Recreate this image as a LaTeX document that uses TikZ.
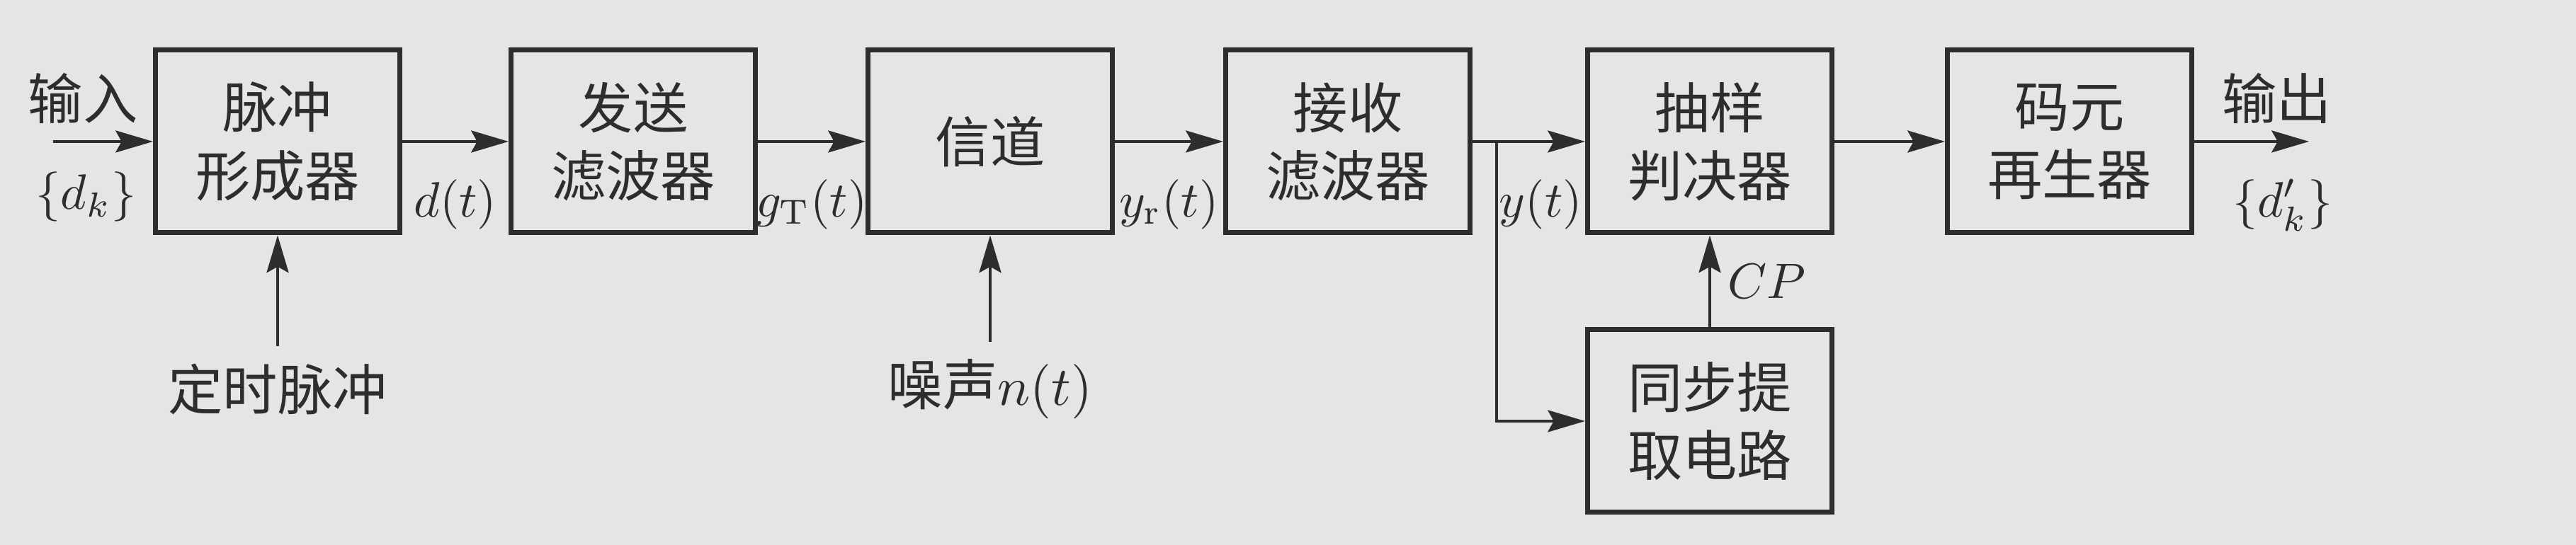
\documentclass[tikz,border=0pt]{standalone}
\usepackage{fontspec}
\newfontfamily\cjk{Noto Sans CJK SC}
\usetikzlibrary{arrows.meta}
\definecolor{paper}{RGB}{229,229,227}
\definecolor{ink}{RGB}{45,45,45}

\begin{document}
\begin{tikzpicture}[
      >={Stealth[length=7.5pt,width=4.4pt,inset=1.2pt]},
      every node/.style={text=ink},
      block/.style={
        draw=ink,line width=1pt,minimum width=1.725cm,minimum height=1.29cm,
        inner sep=0pt,align=center,font={\cjk\fontsize{11}{13.7}\selectfont}
      },
      lbl/.style={font={\cjk\fontsize{11}{13.7}\selectfont}},
      sig/.style={draw=ink,line width=0.6pt},
    ]
    \fill[paper] (0,0) rectangle (18.185,3.85);
    \useasboundingbox (0,0) rectangle (18.185,3.85);
    \node[block] (pf) at (1.96,2.85) {脉冲\\形成器};
    \node[block] (tf) at (4.47,2.85) {发送\\滤波器};
    \node[block] (ch) at (6.99,2.85) {信道};
    \node[block] (rf) at (9.515,2.85) {接收\\滤波器};
    \node[block] (sd) at (12.07,2.85) {抽样\\判决器};
    \node[block] (sync) at (12.07,0.875) {同步提\\取电路};
    \node[block] (rg) at (14.61,2.85) {码元\\再生器};
    \node[lbl] (timing) at (1.96,1.1) {定时脉冲};
    \node[lbl] (noise) at (6.99,1.1) {噪声$n(t)$};
    \coordinate (in) at (0.375,2.85);
    \coordinate (out) at (16.3,2.85);
    \coordinate (jn) at (10.565,2.85);
    \draw[sig,->] (in) -- (pf) node[lbl,above,pos=0.3] {输入} node[below=2.5pt,pos=0.33] {$\{d_k\}$};
    \draw[sig,->] (pf) -- (tf) node[below=4pt,midway] {$d(t)$};
    \draw[sig,->] (tf) -- (ch) node[below=4pt,midway] {$g_{\mathrm{T}}(t)$};
    \draw[sig,->] (ch) -- (rf) node[below=4pt,midway] {$y_{\mathrm{r}}(t)$};
    \draw[sig] (rf) -- (jn);
    \draw[sig,->] (jn) -- (sd) node[below=4pt,midway] {$y(t)$};
    \draw[sig,->] (jn) |- (sync);
    \draw[sig,->] (sync) -- (sd) node[right,midway] {$CP$};
    \draw[sig,->] (sd) -- (rg);
    \draw[sig,->] (rg) -- (out) node[lbl,above,pos=0.72] {输出} node[below=4pt,pos=0.77] {$\{d_k'\}$};
    \draw[sig,->] (timing) -- (pf);
    \draw[sig,->] (noise) -- (ch);
  \end{tikzpicture}
\end{document}
